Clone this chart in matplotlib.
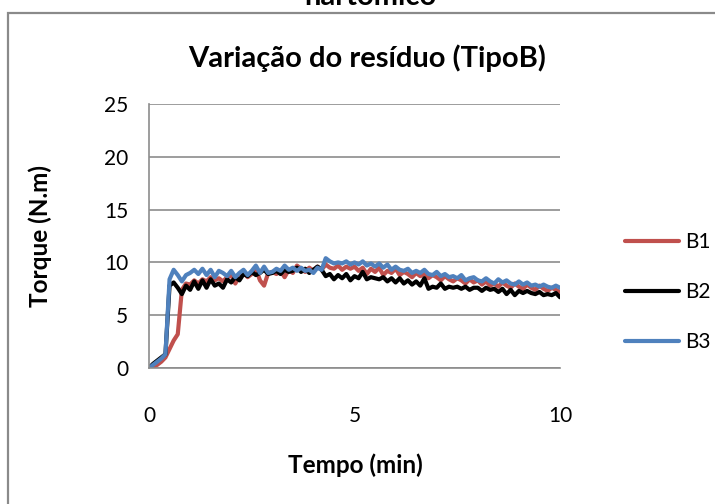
import matplotlib
matplotlib.use("Agg")
import matplotlib.pyplot as plt
import numpy as np
from matplotlib.patches import Rectangle
from matplotlib.lines import Line2D

plt.rcParams['font.family'] = ['Lato', 'DejaVu Sans']

time_min = [round(0.1 * i, 1) for i in range(101)]

B1 = [0.0, 0.1, 0.3, 0.6, 1.0, 1.8, 2.6, 3.2, 7.4, 8.0,
      7.9, 8.3, 8.0, 8.4, 8.2, 8.6, 8.3, 8.5, 8.2, 8.6,
      8.8, 8.0, 8.7, 9.0, 8.6, 8.9, 9.4, 8.3, 7.8, 9.0,
      9.1, 8.9, 9.2, 8.6, 9.3, 9.0, 9.7, 9.4, 9.1, 9.5,
      9.2, 9.6, 9.3, 9.8, 9.5, 9.4, 9.7, 9.3, 9.6, 9.4,
      9.6, 9.2, 9.5, 8.9, 9.4, 9.1, 9.5, 8.8, 9.2, 9.0,
      9.4, 8.8, 9.1, 8.9, 8.6, 9.0, 8.7, 8.9, 8.5, 8.8,
      8.6, 8.3, 8.7, 8.4, 8.2, 8.5, 8.3, 8.0, 8.4, 8.1,
      8.3, 7.9, 8.2, 7.8, 8.0, 7.7, 8.1, 7.8, 7.6, 8.0,
      7.7, 7.5, 7.9, 7.6, 7.4, 7.8, 7.5, 7.3, 7.6, 7.4,
      7.2]

B2 = [0.0, 0.4, 0.7, 1.0, 1.3, 7.8, 8.1, 7.6, 7.0, 7.8,
      7.4, 8.2, 7.5, 8.3, 7.6, 8.4, 7.8, 8.0, 7.6, 8.4,
      8.1, 8.6, 8.3, 8.9, 8.7, 9.1, 8.8, 9.0, 9.3, 8.9,
      9.0, 9.2, 8.9, 9.3, 9.1, 9.2, 9.5, 9.1, 9.4, 9.0,
      9.3, 9.6, 9.3, 8.7, 8.9, 8.4, 8.8, 8.5, 8.9, 8.3,
      8.7, 8.5, 9.1, 8.4, 8.6, 8.5, 8.4, 8.6, 8.2, 8.5,
      8.1, 8.5, 8.0, 8.3, 7.9, 8.2, 7.8, 8.5, 7.5, 7.7,
      7.6, 8.0, 7.5, 7.7, 7.6, 7.7, 7.5, 7.7, 7.4, 7.6,
      7.6, 7.3, 7.6, 7.4, 7.5, 7.2, 7.5, 7.0, 7.4, 6.9,
      7.3, 7.1, 7.3, 7.1, 7.0, 7.2, 6.9, 7.0, 6.9, 7.1,
      6.7]

B3 = [0.0, 0.3, 0.6, 0.9, 1.3, 8.4, 9.3, 8.8, 8.2, 8.8,
      9.0, 9.3, 8.9, 9.4, 8.8, 9.3, 8.6, 9.2, 9.0, 8.7,
      9.2, 8.6, 9.0, 9.3, 8.8, 9.2, 9.7, 9.0, 9.6, 9.0,
      9.1, 9.4, 9.2, 9.7, 9.3, 9.5, 9.2, 9.5, 9.2, 9.3,
      9.0, 9.5, 9.3, 10.4, 10.1, 9.9, 10.0, 9.9, 10.1, 9.8,
      10.0, 9.8, 10.1, 9.7, 9.9, 9.6, 9.9, 9.5, 9.8, 9.3,
      9.6, 9.3, 9.2, 9.4, 9.0, 9.2, 9.0, 9.3, 8.9, 8.8,
      9.1, 8.7, 8.9, 8.6, 8.7, 8.5, 8.8, 8.3, 8.5, 8.6,
      8.3, 8.2, 8.5, 8.2, 8.0, 8.4, 8.1, 8.3, 8.0, 7.9,
      8.2, 7.9, 8.1, 7.8, 7.9, 7.7, 7.9, 7.7, 7.6, 7.8,
      7.6]

series_names = ['B1', 'B2', 'B3']
series_colors = ['#C0504D', '#000000', '#4F81BD']

W, H = 715, 504
fig = plt.figure(figsize=(W / 100, H / 100), dpi=100)

# outer chart border
fig.patches.append(Rectangle((8 / W, -0.05), 1.2, 1 - 13 / H + 0.05,
                             transform=fig.transFigure, fill=False,
                             edgecolor='#8a8a8a', linewidth=1.6))

# heading that is cut off at the very top (as in the reference)
fig.text(370 / W, 1 - 5 / H, 'hartomico', ha='center', va='baseline',
         fontsize=21, fontweight='bold')

ax = fig.add_axes([149 / W, 1 - 368 / H, (560 - 149) / W, (368 - 104) / H])

for name, vals, col in zip(series_names, [B1, B2, B3], series_colors):
    ax.plot(time_min, vals, color=col, linewidth=3.0, label=name,
            solid_joinstyle='round', solid_capstyle='round')

ax.set_xlim(0, 10)
ax.set_ylim(0, 25)
ax.set_xticks([0, 5, 10])
ax.set_yticks([0, 5, 10, 15, 20, 25])
ax.grid(axis='y', color='#8c8c8c', linewidth=1.2)
ax.set_axisbelow(True)
for s in ['top', 'right']:
    ax.spines[s].set_visible(False)
for s in ['left', 'bottom']:
    ax.spines[s].set_color('#8c8c8c')
    ax.spines[s].set_linewidth(1.2)
ax.tick_params(axis='both', length=0, labelsize=15)
ax.tick_params(axis='x', pad=27)
ax.tick_params(axis='y', pad=15)

fig.text(367 / W, 1 - 58 / H, 'Variação do resíduo (TipoB)', ha='center',
         va='center', fontsize=21, fontweight='bold')
fig.text(355 / W, 1 - 465 / H, 'Tempo (min)', ha='center', va='center',
         fontsize=17.5, fontweight='bold')
fig.text(40 / W, 1 - 236 / H, 'Torque (N.m)', ha='center', va='center',
         rotation=90, fontsize=17.5, fontweight='bold')

handles = [Line2D([0], [0], color=c, linewidth=3.0, solid_capstyle='round')
           for c in series_colors]
leg = fig.legend(handles, series_names, loc='center left',
                 bbox_to_anchor=(606 / W, 1 - 292 / H), frameon=False,
                 fontsize=15, handlelength=2.6, handletextpad=0.3,
                 labelspacing=1.45)

fig.savefig('out.png', dpi=100)
